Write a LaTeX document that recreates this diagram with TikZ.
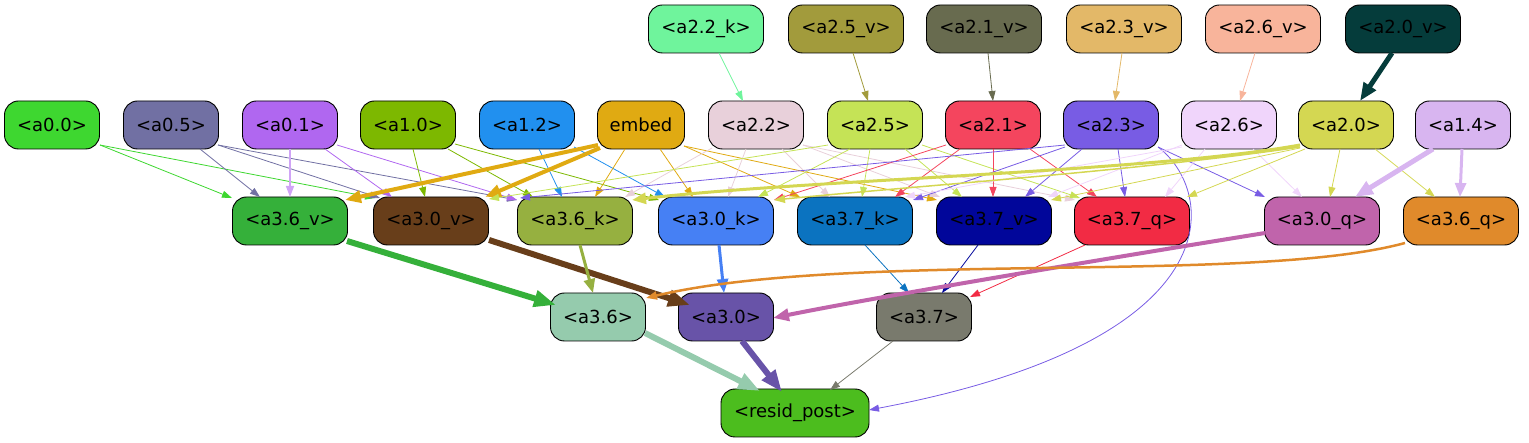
\documentclass[tikz,border=0pt]{standalone}
\usepackage{fontspec}
\setmainfont{DejaVu Sans}
\usetikzlibrary{arrows.meta,calc}
\definecolor{cA22k}{HTML}{6FF49C}
\definecolor{cA25v}{HTML}{A29B3C}
\definecolor{cA21v}{HTML}{686B4F}
\definecolor{cA23v}{HTML}{E3B868}
\definecolor{cA26v}{HTML}{F8B49B}
\definecolor{cA20v}{HTML}{053C3B}
\definecolor{cA00}{HTML}{3ED730}
\definecolor{cA05}{HTML}{7170A3}
\definecolor{cA01}{HTML}{B067F0}
\definecolor{cA10}{HTML}{7DB800}
\definecolor{cA12}{HTML}{2190EF}
\definecolor{cEmb}{HTML}{E0AA12}
\definecolor{cA22}{HTML}{E8D0DA}
\definecolor{cA25}{HTML}{C5E356}
\definecolor{cA21}{HTML}{F4455E}
\definecolor{cA23}{HTML}{785CE4}
\definecolor{cA26}{HTML}{F0D5FB}
\definecolor{cA20}{HTML}{D4D752}
\definecolor{cA14}{HTML}{D8B5F0}
\definecolor{cB36v}{HTML}{35B03A}
\definecolor{cB30v}{HTML}{683E1A}
\definecolor{cB36k}{HTML}{96B040}
\definecolor{cB30k}{HTML}{4680F4}
\definecolor{cB37k}{HTML}{0B73C0}
\definecolor{cB37v}{HTML}{01069A}
\definecolor{cB37q}{HTML}{F22B44}
\definecolor{cB30q}{HTML}{C064AB}
\definecolor{cB36q}{HTML}{E08A2B}
\definecolor{cC36}{HTML}{95CBAD}
\definecolor{cC30}{HTML}{6853A8}
\definecolor{cC37}{HTML}{797A6D}
\definecolor{cRp}{HTML}{4CBD1E}
\newcommand\E[7]{\draw[#1] ([shift={(#3,#4)}]#2.center) -- ([shift={(#6,#7)}]#5.center);}
\begin{document}
\begin{tikzpicture}[x=1pt,y=-1pt,
  nd/.style={draw=black, line width=0.9pt, rounded corners=14pt, minimum height=48pt,
    minimum width=95pt, inner sep=0pt, font=\fontsize{18}{21}\selectfont},
  wd/.style={nd, minimum width=115pt},
  e1/.style={line width=0.8pt,-{Triangle[length=10pt,width=7pt]}},
  e2/.style={line width=1.5pt,-{Triangle[length=11pt,width=8pt]}},
  e3/.style={line width=3pt,-{Triangle[length=14pt,width=11pt]}},
  e4/.style={line width=4pt,-{Triangle[length=16pt,width=12pt]}},
  e5/.style={line width=5pt,-{Triangle[length=18pt,width=14pt]}},
  e6/.style={line width=6pt,-{Triangle[length=22pt,width=16pt]}}]
\useasboundingbox (0,0) rectangle (1529,443);
% top row
\node[wd,fill=cA22k] (a22k) at (706,29) {<a2.2\_k>};
\node[wd,fill=cA25v] (a25v) at (846,29) {<a2.5\_v>};
\node[wd,fill=cA21v] (a21v) at (984,29) {<a2.1\_v>};
\node[wd,fill=cA23v] (a23v) at (1124,29) {<a2.3\_v>};
\node[wd,fill=cA26v] (a26v) at (1263,29) {<a2.6\_v>};
\node[wd,fill=cA20v] (a20v) at (1403,29) {<a2.0\_v>};
% second row
\node[nd,fill=cA00] (a00) at (52,125) {<a0.0>};
\node[nd,fill=cA05] (a05) at (171,125) {<a0.5>};
\node[nd,fill=cA01] (a01) at (290,125) {<a0.1>};
\node[nd,fill=cA10] (a10) at (408,125) {<a1.0>};
\node[nd,fill=cA12] (a12) at (527,125) {<a1.2>};
\node[nd,fill=cEmb,minimum width=87pt] (emb) at (641,125) {embed};
\node[nd,fill=cA22] (a22) at (756,125) {<a2.2>};
\node[nd,fill=cA25] (a25) at (875,125) {<a2.5>};
\node[nd,fill=cA21] (a21) at (993,125) {<a2.1>};
\node[nd,fill=cA23] (a23) at (1111,125) {<a2.3>};
\node[nd,fill=cA26] (a26) at (1229,125) {<a2.6>};
\node[nd,fill=cA20] (a20) at (1346,125) {<a2.0>};
\node[nd,fill=cA14] (a14) at (1463,125) {<a1.4>};
% third row
\node[wd,fill=cB36v] (b36v) at (290,221) {<a3.6\_v>};
\node[wd,fill=cB30v] (b30v) at (431,221) {<a3.0\_v>};
\node[wd,fill=cB36k] (b36k) at (575,221) {<a3.6\_k>};
\node[wd,fill=cB30k] (b30k) at (716,221) {<a3.0\_k>};
\node[wd,fill=cB37k] (b37k) at (855,221) {<a3.7\_k>};
\node[wd,fill=cB37v] (b37v) at (994,221) {<a3.7\_v>};
\node[wd,fill=cB37q] (b37q) at (1132,221) {<a3.7\_q>};
\node[wd,fill=cB30q] (b30q) at (1322,221) {<a3.0\_q>};
\node[wd,fill=cB36q] (b36q) at (1461,221) {<a3.6\_q>};
% fourth row
\node[nd,fill=cC36] (c36) at (598,317) {<a3.6>};
\node[nd,fill=cC30] (c30) at (726,317) {<a3.0>};
\node[nd,fill=cC37] (c37) at (924,317) {<a3.7>};
% bottom
\node[nd,fill=cRp,minimum width=148pt] (rp) at (795,413) {<resid\_post>};
% top edges
\E{e1,cA22k}{a22k}{13}{24}{a22}{-13}{-24}
\E{e1,cA25v}{a25v}{7}{24}{a25}{-7}{-24}
\E{e1,cA21v}{a21v}{4}{24}{a21}{0}{-24}
\E{e1,cA23v}{a23v}{-2}{24}{a23}{4}{-24}
\E{e1,cA26v}{a26v}{-8}{24}{a26}{11}{-24}
\E{e5,cA20v}{a20v}{-11}{24}{a20}{14}{-24}
% row2 -> row3
\E{e1,cA00}{a00}{48}{20}{b36v}{-58}{-23}
\E{e1,cA00}{a00}{48}{20}{b30v}{-56}{-23}
\E{e1,cA05}{a05}{29}{24}{b36v}{-30}{-24}
\E{e1,cA05}{a05}{47}{20}{b30v}{-51}{-23}
\E{e1,cA05}{a05}{47}{20}{b36k}{-58}{-21}
\E{e2,cA01!60}{a01}{0}{24}{b36v}{0}{-24}
\E{e1,cA01}{a01}{35}{24}{b30v}{-39}{-24}
\E{e1,cA01}{a01}{47}{20}{b36k}{-58}{-21}
\E{e1,cA10}{a10}{5}{24}{b30v}{-6}{-24}
\E{e1,cA10}{a10}{40}{24}{b36k}{-42}{-24}
\E{e1,cA10}{a10}{47}{19}{b30k}{-57}{-21}
\E{e1,cA12}{a12}{12}{24}{b36k}{-13}{-24}
\E{e1,cA12}{a12}{47}{22}{b30k}{-51}{-24}
\E{e4,cEmb}{emb}{-43}{20}{b36v}{55}{-21}
\E{e4,cEmb}{emb}{-41}{23}{b30v}{54}{-24}
\E{e1,cEmb}{emb}{-16}{24}{b36k}{20}{-24}
\E{e1,cEmb}{emb}{19}{24}{b30k}{-23}{-24}
\E{e1,cEmb}{emb}{43}{21}{b37k}{-55}{-24}
\E{e1,cEmb}{emb}{43}{21}{b37v}{-57}{-21}
\E{e1,cA22}{a22}{-44}{23}{b36k}{50}{-24}
\E{e1,cA22}{a22}{-10}{24}{b30k}{12}{-24}
\E{e1,cA22}{a22}{26}{24}{b37k}{-25}{-24}
\E{e1,cA22}{a22}{47}{20}{b37v}{-54}{-24}
\E{e1,cA22}{a22}{47}{20}{b37q}{-57}{-21}
\E{e1,cA25}{a25}{-47}{20}{b30v}{58}{-22}
\E{e1,cA25}{a25}{-25}{24}{b30k}{42}{-24}
\E{e1,cA25}{a25}{-5}{24}{b37k}{7}{-24}
\E{e1,cA25}{a25}{30}{24}{b37v}{-32}{-24}
\E{e1,cA25}{a25}{47}{20}{b37q}{-52}{-23}
\E{e1,cA21}{a21}{-47}{20}{b30k}{58}{-21}
\E{e1,cA21}{a21}{-33}{24}{b37k}{40}{-24}
\E{e1,cA21}{a21}{0}{24}{b37v}{-1}{-24}
\E{e1,cA21}{a21}{37}{24}{b37q}{-35}{-24}
\E{e1,cA23}{a23}{-46}{20}{b36k}{-55}{-23}
\E{e1,cA23}{a23}{-46}{22}{b37k}{58}{-21}
\E{e1,cA23}{a23}{-29}{24}{b37v}{31}{-24}
\E{e1,cA23}{a23}{7}{24}{b37q}{-7}{-24}
\E{e1,cA23}{a23}{47}{22}{b30q}{-57}{-24}
\draw[e1,cA23] ([shift={(47,22)}]a23.center) .. controls ([shift={(104,65)}]a23.center) and ([shift={(445,-73)}]rp.center) .. ([shift={(74,-3)}]rp.center);
\E{e1,cA26}{a26}{-47}{22}{b37k}{50}{-24}
\E{e1,cA26}{a26}{-47}{20}{b37v}{54}{-24}
\E{e1,cA26}{a26}{-24}{24}{b37q}{33}{-24}
\E{e1,cA26}{a26}{24}{24}{b30q}{-20}{-24}
\draw[e3,cA20] ([shift={(-46,20)}]a20.center) .. controls ([shift={(-196,47)}]a20.center) and ([shift={(225,-41)}]b36k.center) .. ([shift={(57,-21)}]b36k.center);
\draw[e2,cA20] ([shift={(-46,22)}]a20.center) .. controls ([shift={(-200,45)}]a20.center) and ([shift={(200,-35)}]b30k.center) .. ([shift={(58,-21)}]b30k.center);
\E{e1,cA20}{a20}{-46}{23}{b37v}{57}{-21}
\E{e1,cA20}{a20}{-41}{24}{b37q}{55}{-24}
\E{e1,cA20}{a20}{-6}{24}{b30q}{8}{-24}
\E{e1,cA20}{a20}{29}{24}{b36q}{-26}{-24}
\E{e5,cA14}{a14}{-30}{24}{b30q}{33}{-24}
\E{e3,cA14}{a14}{-1}{24}{b36q}{-1}{-24}
% row3 -> row4
\E{e6,cB36v}{b36v}{57}{20}{c36}{-42}{-12}
\E{e6,cB30v}{b30v}{58}{19}{c30}{-36}{-12}
\E{e3,cB36k}{b36k}{5}{24}{c36}{-5}{-24}
\E{e3,cB30k}{b30k}{3}{24}{c30}{-2}{-24}
\E{e1,cB37k}{b37k}{10}{24}{c37}{-15}{-24}
\E{e1,cB37v}{b37v}{-16}{24}{c37}{18}{-24}
\E{e1,cB37q}{b37q}{-47}{24}{c37}{46}{-20}
\draw[e4,cB30q] ([shift={(-57,12)}]b30q.center) .. controls ([shift={(-200,35)}]b30q.center) and ([shift={(150,-20)}]c30.center) .. ([shift={(47,1)}]c30.center);
\draw[e2,cB36q,line width=2.5pt] ([shift={(-56,22)}]b36q.center) .. controls ([shift={(-211,64)}]b36q.center) and ([shift={(252,-67)}]c36.center) .. ([shift={(48,-19)}]c36.center);
% row4 -> bottom
\E{e6,cC36}{c36}{47}{16}{rp}{-35}{-22}
\E{e6,cC30}{c30}{16}{24}{rp}{-13}{-21}
\E{e1,cC37}{c37}{-31}{24}{rp}{35}{-23}
\end{tikzpicture}
\end{document}
